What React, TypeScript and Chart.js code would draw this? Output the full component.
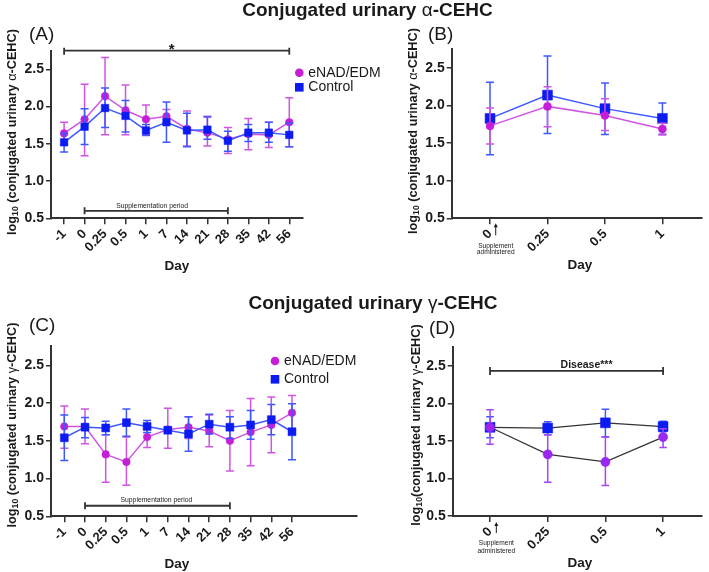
import React, { useEffect, useRef } from 'react';
import { Chart, registerables } from 'chart.js';

Chart.register(...registerables);

const W = 709;
const H = 572;
const FONT = "'Liberation Sans', Arial, Helvetica, sans-serif";

// ---------- categories ----------
const daysLong = ['-1', '0', '0.25', '0.5', '1', '7', '14', '21', '28', '35', '42', '56'];
const daysShort = ['0', '0.25', '0.5', '1'];

// ---------- Panel A: conjugated urinary alpha-CEHC, full study ----------
const aEnad = [1.64, 1.83, 2.14, 1.95, 1.83, 1.87, 1.70, 1.65, 1.56, 1.63, 1.62, 1.79];
const aEnadHi = [1.79, 2.30, 2.66, 2.29, 2.02, 1.96, 1.94, 1.87, 1.72, 1.84, 1.79, 2.12];
const aEnadLo = [1.49, 1.34, 1.62, 1.62, 1.63, 1.78, 1.47, 1.47, 1.37, 1.42, 1.45, 1.46];
const aCtrl = [1.52, 1.73, 1.98, 1.875, 1.68, 1.79, 1.68, 1.69, 1.54, 1.65, 1.65, 1.62];
const aCtrlHi = [1.64, 1.97, 2.25, 2.08, 1.76, 2.06, 1.91, 1.86, 1.67, 1.76, 1.79, 1.78];
const aCtrlLo = [1.39, 1.49, 1.72, 1.66, 1.61, 1.52, 1.46, 1.56, 1.40, 1.53, 1.52, 1.46];

// ---------- Panel B: alpha-CEHC, first day ----------
const bBlue = [1.83, 2.14, 1.96, 1.83];
const bBlueHi = [2.31, 2.66, 2.30, 2.035];
const bBlueLo = [1.345, 1.63, 1.615, 1.62];
const bMag = [1.73, 1.99, 1.87, 1.69];
const bMagHi = [1.97, 2.25, 2.09, 1.765];
const bMagLo = [1.49, 1.72, 1.67, 1.61];

// ---------- Panel C: conjugated urinary gamma-CEHC, full study ----------
const cEnad = [1.69, 1.69, 1.32, 1.22, 1.55, 1.65, 1.68, 1.63, 1.50, 1.615, 1.71, 1.87];
const cEnadHi = [1.96, 1.92, 1.58, 1.55, 1.66, 1.93, 1.82, 1.84, 1.90, 2.06, 2.08, 2.10];
const cEnadLo = [1.40, 1.46, 0.95, 0.91, 1.41, 1.40, 1.53, 1.42, 1.10, 1.17, 1.34, 1.64];
const cCtrl = [1.54, 1.68, 1.67, 1.74, 1.69, 1.64, 1.59, 1.72, 1.68, 1.71, 1.78, 1.62];
const cCtrlHi = [1.84, 1.81, 1.76, 1.92, 1.77, 1.68, 1.82, 1.85, 1.82, 1.90, 1.98, 1.99];
const cCtrlLo = [1.24, 1.54, 1.58, 1.56, 1.61, 1.60, 1.36, 1.59, 1.53, 1.52, 1.58, 1.25];

// ---------- Panel D: gamma-CEHC, first day ----------
const dBlue = [1.68, 1.67, 1.74, 1.69];
const dBlueHi = [1.82, 1.755, 1.92, 1.76];
const dBlueLo = [1.54, 1.58, 1.555, 1.62];
const dPur = [1.68, 1.32, 1.22, 1.55];
const dPurHi = [1.915, 1.58, 1.55, 1.66];
const dPurLo = [1.455, 0.95, 0.905, 1.41];

const yTicks = [0.5, 1.0, 1.5, 2.0, 2.5];

// ---------- colours ----------
const MAG_PT = '#C41ED6';
const MAG_LN = '#CF55E2';
const BLUE_PT = '#0B1BF2';
const BLUE_LN = '#3E58FF';
const PUR_PT = '#9A26F2';
const PUR_ERR = '#A445F6';
const DARK = '#333333';
const INK = '#1a1a1a';

type Series = {
  values: number[]; hi: number[]; lo: number[];
  point: string; line: string; err: string; lineWidth: number;
  shape: 'circle' | 'rect'; radius: number; top: boolean;
};
type Area = { l: number; r: number; t: number; b: number };
type Panel = {
  id: string; area: Area; xMin: number; xMax: number; cats: string[];
  series: Series[]; cap: number;
  annotate: (ctx: CanvasRenderingContext2D, px: (v: number) => number, py: (v: number) => number, ca: any) => void;
};

type Part = { t: string; sub?: boolean; w?: string };

function drawRich(ctx: CanvasRenderingContext2D, parts: Part[], cx: number, cy: number, size: number, weight: string, rotate: boolean) {
  ctx.save();
  ctx.translate(cx, cy);
  if (rotate) ctx.rotate(-Math.PI / 2);
  ctx.textBaseline = 'middle';
  ctx.textAlign = 'left';
  ctx.fillStyle = INK;
  const fontFor = (p: Part) => `${p.w ?? weight} ${p.sub ? size * 0.68 : size}px ${FONT}`;
  let total = 0;
  for (const p of parts) { ctx.font = fontFor(p); total += ctx.measureText(p.t).width; }
  let x = -total / 2;
  for (const p of parts) {
    ctx.font = fontFor(p);
    ctx.fillText(p.t, x, p.sub ? size * 0.32 : 0);
    x += ctx.measureText(p.t).width;
  }
  ctx.restore();
}

function text(ctx: CanvasRenderingContext2D, s: string, x: number, y: number, size: number, weight = 'normal', align: CanvasTextAlign = 'center', baseline: CanvasTextBaseline = 'middle') {
  ctx.save();
  ctx.font = `${weight} ${size}px ${FONT}`;
  ctx.fillStyle = INK;
  ctx.textAlign = align;
  ctx.textBaseline = baseline;
  ctx.fillText(s, x, y);
  ctx.restore();
}

function bracket(ctx: CanvasRenderingContext2D, x0: number, x1: number, y: number, up: number, down: number) {
  ctx.save();
  ctx.strokeStyle = DARK;
  ctx.lineWidth = 1.8;
  ctx.beginPath();
  ctx.moveTo(x0, y); ctx.lineTo(x1, y);
  ctx.moveTo(x0, y - up); ctx.lineTo(x0, y + down);
  ctx.moveTo(x1, y - up); ctx.lineTo(x1, y + down);
  ctx.stroke();
  ctx.restore();
}

function arrowNote(ctx: CanvasRenderingContext2D, x: number, y0: number, y1: number, t0: number, t1: number) {
  ctx.save();
  ctx.strokeStyle = INK;
  ctx.fillStyle = INK;
  ctx.lineWidth = 1;
  ctx.beginPath();
  ctx.moveTo(x, y0); ctx.lineTo(x, y1 + 2);
  ctx.stroke();
  ctx.beginPath();
  ctx.moveTo(x, y1); ctx.lineTo(x - 2, y1 + 4); ctx.lineTo(x + 2, y1 + 4); ctx.closePath();
  ctx.fill();
  ctx.restore();
  text(ctx, 'Supplement', x, t0, 6.6);
  text(ctx, 'administered', x, t1, 6.6);
}

function legend(ctx: CanvasRenderingContext2D, x: number, y0: number, y1: number) {
  ctx.save();
  ctx.fillStyle = MAG_PT;
  ctx.beginPath(); ctx.arc(x, y0, 4.3, 0, Math.PI * 2); ctx.fill();
  ctx.fillStyle = BLUE_PT;
  ctx.fillRect(x - 4.3, y1 - 4.3, 8.6, 8.6);
  ctx.restore();
  text(ctx, 'eNAD/EDM', x + 9, y0, 14, 'normal', 'left');
  text(ctx, 'Control', x + 9, y1, 14, 'normal', 'left');
}

const alphaTitle: Part[] = [{ t: 'log' }, { t: '10', sub: true }, { t: ' (conjugated urinary ' }, { t: 'α', w: 'normal' }, { t: '-CEHC)' }];
const gammaTitleC: Part[] = [{ t: 'log' }, { t: '10', sub: true }, { t: ' (conjugated urinary ' }, { t: 'γ', w: 'normal' }, { t: '-CEHC)' }];
const gammaTitleD: Part[] = [{ t: 'log' }, { t: '10', sub: true }, { t: '(conjugated urinary ' }, { t: 'γ', w: 'normal' }, { t: '-CEHC)' }];

const panels: Panel[] = [
  {
    id: 'A', area: { l: 51, r: 303, t: 50.7, b: 218.3 }, xMin: -0.64, xMax: 11.67, cats: daysLong, cap: 4,
    series: [
      { values: aEnad, hi: aEnadHi, lo: aEnadLo, point: MAG_PT, line: MAG_LN, err: MAG_LN, lineWidth: 1.5, shape: 'circle', radius: 3.8, top: false },
      { values: aCtrl, hi: aCtrlHi, lo: aCtrlLo, point: BLUE_PT, line: BLUE_LN, err: BLUE_LN, lineWidth: 1.5, shape: 'rect', radius: 5.3, top: true },
    ],
    annotate: (ctx, px, py, ca) => {
      drawRich(ctx, [{ t: 'Conjugated urinary ' }, { t: 'α', w: 'normal' }, { t: '-CEHC' }], 367.5, 11, 19, 'bold', false);
      text(ctx, '(A)', 29, 35, 19, 'normal', 'left');
      drawRich(ctx, alphaTitle, 12, 132, 12.7, 'bold', true);
      text(ctx, 'Day', 177, 266, 13.5, 'bold');
      bracket(ctx, px(0), px(11), py(2.75), 3, 4);
      text(ctx, '*', px(5.25), ca.top + 3.5, 15, 'bold', 'center', 'alphabetic');
      bracket(ctx, px(1), px(8), py(0.6), 3.5, 3.5);
      text(ctx, 'Supplementation period', px(4.3), py(0.6) - 3.3, 6.8, 'normal', 'center', 'alphabetic');
      legend(ctx, 299.3, 72.7, 87.3);
    },
  },
  {
    id: 'B', area: { l: 451.7, r: 708, t: 49.3, b: 218.3 }, xMin: -0.667, xMax: 3.68, cats: daysShort, cap: 4,
    series: [
      { values: bBlue, hi: bBlueHi, lo: bBlueLo, point: BLUE_PT, line: BLUE_LN, err: BLUE_LN, lineWidth: 1.5, shape: 'rect', radius: 7, top: false },
      { values: bMag, hi: bMagHi, lo: bMagLo, point: MAG_PT, line: MAG_LN, err: MAG_LN, lineWidth: 1.5, shape: 'circle', radius: 4, top: true },
    ],
    annotate: (ctx, px, py, ca) => {
      text(ctx, '(B)', 428, 35, 19, 'normal', 'left');
      drawRich(ctx, alphaTitle, 413, 131, 12.7, 'bold', true);
      text(ctx, 'Day', 580, 265, 13.5, 'bold');
      arrowNote(ctx, px(0) + 5.7, ca.bottom + 17, ca.bottom + 5, ca.bottom + 27.7, ca.bottom + 33.7);
    },
  },
  {
    id: 'C', area: { l: 51, r: 357, t: 346.4, b: 516.3 }, xMin: -0.643, xMax: 14.14, cats: daysLong, cap: 4,
    series: [
      { values: cEnad, hi: cEnadHi, lo: cEnadLo, point: MAG_PT, line: MAG_LN, err: MAG_LN, lineWidth: 1.5, shape: 'circle', radius: 3.8, top: false },
      { values: cCtrl, hi: cCtrlHi, lo: cCtrlLo, point: BLUE_PT, line: BLUE_LN, err: BLUE_LN, lineWidth: 1.5, shape: 'rect', radius: 5.6, top: true },
    ],
    annotate: (ctx, px, py, ca) => {
      drawRich(ctx, [{ t: 'Conjugated urinary ' }, { t: 'γ', w: 'normal' }, { t: '-CEHC' }], 373, 304, 19, 'bold', false);
      text(ctx, '(C)', 29, 326, 19, 'normal', 'left');
      drawRich(ctx, gammaTitleC, 12, 425, 12.7, 'bold', true);
      text(ctx, 'Day', 177, 564, 13.5, 'bold');
      bracket(ctx, px(1), px(8), py(0.64), 3.5, 3.5);
      text(ctx, 'Supplementation period', px(4.45), py(0.64) - 3.5, 6.8, 'normal', 'center', 'alphabetic');
      legend(ctx, 275, 361, 379.3);
    },
  },
  {
    id: 'D', area: { l: 452.7, r: 708, t: 346.9, b: 516 }, xMin: -0.647, xMax: 3.666, cats: daysShort, cap: 3.8,
    series: [
      { values: dBlue, hi: dBlueHi, lo: dBlueLo, point: BLUE_PT, line: DARK, err: BLUE_LN, lineWidth: 1.2, shape: 'rect', radius: 7, top: false },
      { values: dPur, hi: dPurHi, lo: dPurLo, point: PUR_PT, line: DARK, err: PUR_ERR, lineWidth: 1.2, shape: 'circle', radius: 4.6, top: true },
    ],
    annotate: (ctx, px, py, ca) => {
      text(ctx, '(D)', 429, 329, 19, 'normal', 'left');
      drawRich(ctx, gammaTitleD, 416, 425, 12.7, 'bold', true);
      text(ctx, 'Day', 580, 563, 13.5, 'bold');
      bracket(ctx, px(0), px(3), py(2.43), 4, 4);
      text(ctx, 'Disease***', (px(0) + px(3)) / 2 + 10, py(2.43) - 3, 10.5, 'bold', 'center', 'alphabetic');
      arrowNote(ctx, px(0) + 6.3, ca.bottom + 17, ca.bottom + 6, ca.bottom + 27, ca.bottom + 35);
    },
  },
];

const YW = 40;
const XH = 50;

function buildConfig(p: Panel): any {
  const plugin = {
    id: 'panel' + p.id,
    beforeDatasetDraw(chart: any, args: any) {
      const s = p.series[args.index];
      const ctx: CanvasRenderingContext2D = chart.ctx;
      const xs = chart.scales.x;
      const ys = chart.scales.y;
      ctx.save();
      ctx.strokeStyle = s.err;
      ctx.lineWidth = 1.5;
      ctx.beginPath();
      s.values.forEach((_, j) => {
        const x = xs.getPixelForValue(j);
        const yt = ys.getPixelForValue(s.hi[j]);
        const yb = ys.getPixelForValue(s.lo[j]);
        ctx.moveTo(x, yt); ctx.lineTo(x, yb);
        ctx.moveTo(x - p.cap, yt); ctx.lineTo(x + p.cap, yt);
        ctx.moveTo(x - p.cap, yb); ctx.lineTo(x + p.cap, yb);
      });
      ctx.stroke();
      ctx.restore();
    },
    afterDraw(chart: any) {
      const xs = chart.scales.x;
      const ys = chart.scales.y;
      p.annotate(chart.ctx, (v) => xs.getPixelForValue(v), (v) => ys.getPixelForValue(v), chart.chartArea);
    },
  };
  return {
    type: 'line',
    data: {
      datasets: p.series.map((s) => ({
        data: s.values.map((v, j) => ({ x: j, y: v })),
        borderColor: s.line,
        borderWidth: s.lineWidth,
        backgroundColor: s.point,
        pointStyle: s.shape,
        pointRadius: s.radius,
        pointBackgroundColor: s.point,
        pointBorderColor: s.point,
        pointBorderWidth: 0.5,
        order: s.top ? 0 : 1,
        tension: 0,
        clip: false,
      })),
    },
    options: {
      animation: false,
      responsive: false,
      events: [],
      layout: { padding: { left: p.area.l - YW, right: W - p.area.r, top: p.area.t, bottom: H - p.area.b - XH } },
      plugins: { legend: { display: false }, tooltip: { enabled: false }, title: { display: false } },
      scales: {
        x: {
          type: 'linear', min: p.xMin, max: p.xMax,
          afterBuildTicks: (sc: any) => { sc.ticks = p.cats.map((_, j) => ({ value: j })); },
          afterFit: (sc: any) => { sc.height = XH; },
          ticks: {
            autoSkip: false, maxRotation: 45, minRotation: 45, padding: 2,
            callback: (v: any) => p.cats[Math.round(v)] ?? '',
            font: { family: FONT, size: 13, weight: 'bold' }, color: INK,
          },
          grid: { drawOnChartArea: false, drawTicks: true, tickLength: 6, color: DARK, lineWidth: 1.5 },
          border: { display: true, color: DARK, width: 2 },
        },
        y: {
          type: 'linear', min: 0.5, max: 2.75,
          afterBuildTicks: (sc: any) => { sc.ticks = yTicks.map((v) => ({ value: v })); },
          afterFit: (sc: any) => { sc.width = YW; },
          ticks: {
            padding: 2,
            callback: (v: any) => Number(v).toFixed(1),
            font: { family: FONT, size: 14, weight: 'bold' }, color: INK,
          },
          grid: { drawOnChartArea: false, drawTicks: true, tickLength: 5, color: DARK, lineWidth: 1.5 },
          border: { display: true, color: DARK, width: 2 },
        },
      },
    },
    plugins: [plugin],
  };
}

function PanelCanvas({ panel }: { panel: Panel }) {
  const ref = useRef<HTMLCanvasElement | null>(null);
  useEffect(() => {
    if (!ref.current) return;
    const chart = new Chart(ref.current, buildConfig(panel));
    return () => chart.destroy();
  }, [panel]);
  return <canvas ref={ref} width={W} height={H} style={{ position: 'absolute', left: 0, top: 0, width: W, height: H }} />;
}

export default function App() {
  return (
    <div style={{ position: 'fixed', left: 0, top: 0, width: W, height: H, background: '#ffffff', overflow: 'hidden' }}>
      {panels.map((p) => <PanelCanvas key={p.id} panel={p} />)}
    </div>
  );
}
